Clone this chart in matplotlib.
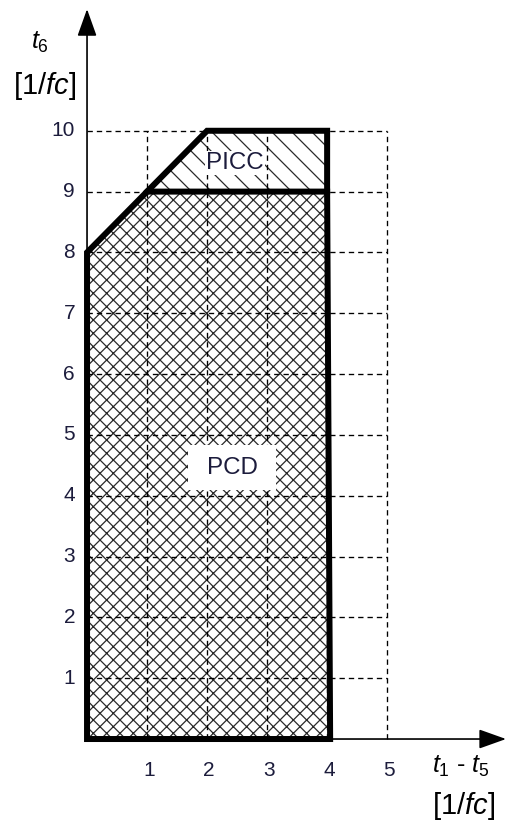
import matplotlib
matplotlib.use("Agg")
import matplotlib.pyplot as plt
from matplotlib.patches import Polygon, Rectangle

plt.rcParams['font.family'] = ['Liberation Sans', 'DejaVu Sans']
plt.rcParams['mathtext.fontset'] = 'custom'
plt.rcParams['mathtext.rm'] = 'Liberation Sans'
plt.rcParams['mathtext.it'] = 'Liberation Sans:italic'
plt.rcParams['hatch.linewidth'] = 0.75

# ---- data ----
pcd_x = [0, 0, 1, 4, 4.05]
pcd_y = [0, 8, 9, 9, 0]
picc_x = [1, 2, 4, 4]
picc_y = [9, 10, 10, 9]
x_ticks = [1, 2, 3, 4, 5]
y_ticks = [1, 2, 3, 4, 5, 6, 7, 8, 9, 10]
x_tick_labels = ['1', '2', '3', '4', '5']
y_tick_labels = ['1', '2', '3', '4', '5', '6', '7', '8', '9', '10']
region_labels = ['PICC', 'PCD']
region_label_pos = [(2.47, 9.47), (2.43, 4.46)]

DPI = 120
fig = plt.figure(figsize=(506 / DPI, 826 / DPI), dpi=DPI)
ax = fig.add_axes([0, 0, 1, 1])
ax.set_xlim(-1.45, 6.98)
ax.set_ylim(-1.43, 12.15)
ax.axis('off')

text_color = '#1c1c3c'
dash = (0, (4, 3))

# grid
ax.vlines(x_ticks, 0, max(y_ticks), colors='k', linestyles=dash, lw=0.8, zorder=3)
ax.hlines(y_ticks, 0, max(x_ticks), colors='k', linestyles=dash, lw=0.8, zorder=3)

# hatched regions
pcd_pts = list(zip(pcd_x, pcd_y))
picc_pts = list(zip(picc_x, picc_y))
ax.add_patch(Polygon(pcd_pts, closed=True, facecolor='white', edgecolor='#2a2a2a',
                     lw=0, hatch='xxx', zorder=2))
ax.add_patch(Polygon(picc_pts, closed=True, facecolor='white', edgecolor='#2a2a2a',
                     lw=0, hatch='\\\\', zorder=2))

# label boxes
ax.add_patch(Rectangle((1.68, 4.1), 1.47, 0.74, facecolor='white', edgecolor='none', zorder=4))
ax.text(*region_label_pos[0], region_labels[0], ha='center', va='center', fontsize=14.5,
        color=text_color, zorder=5,
        bbox=dict(boxstyle='square,pad=0.05', facecolor='white', edgecolor='none'))
ax.text(*region_label_pos[1], region_labels[1], ha='center', va='center', fontsize=14.5,
        color=text_color, zorder=5)

# thick outlines
ax.add_patch(Polygon(pcd_pts, closed=True, fill=False, edgecolor='black', lw=3.6,
                     joinstyle='miter', zorder=6))
ax.plot(picc_x, picc_y, color='black', lw=3.6, solid_joinstyle='miter',
        solid_capstyle='projecting', zorder=6)

# axes with arrows
arrow = dict(arrowstyle='-|>,head_length=1.4,head_width=0.5', mutation_scale=10,
             lw=1.0, color='black', shrinkA=0, shrinkB=0)
ax.annotate('', xy=(0, 12.0), xytext=(0, 0), arrowprops=arrow, zorder=7)
ax.annotate('', xy=(6.98, 0), xytext=(0, 0), arrowprops=arrow, zorder=7)

# tick labels
for x, lab in zip(x_ticks, x_tick_labels):
    ax.text(x + 0.03, -0.51, lab, ha='center', va='center', fontsize=12.5, color=text_color)
for y, lab in zip(y_ticks, y_tick_labels):
    ax.text(-0.2, y, lab, ha='right', va='center', fontsize=12.5, color=text_color)

# axis labels
ax.text(-0.78, 11.46, r'$t_6$', ha='center', va='center', fontsize=15, color='black')
ax.text(-0.7, 10.74, r'[1/$fc$]', ha='center', va='center', fontsize=17.5, color='black')
ax.text(6.22, -0.45, r'$t_1$ - $t_5$', ha='center', va='center', fontsize=15, color='black')
ax.text(6.27, -1.10, r'[1/$fc$]', ha='center', va='center', fontsize=17.5, color='black')

fig.savefig('out.png', dpi=DPI)
